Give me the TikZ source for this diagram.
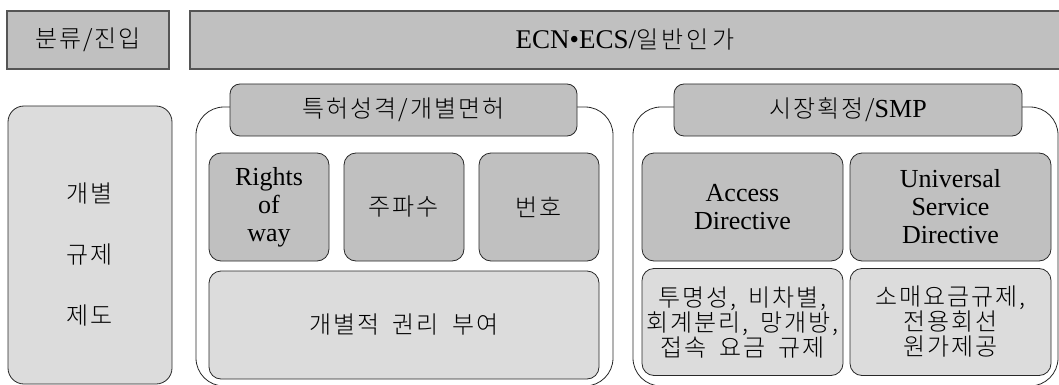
\documentclass[tikz,border=0pt]{standalone}
\usepackage{fontspec}
\setmainfont{Liberation Serif}
\newfontfamily\kr{Noto Sans CJK KR Light}[WordSpace=1.8,LetterSpace=8]
\newfontfamily\krwide{Noto Sans CJK KR Light}[LetterSpace=14]
\definecolor{dkgray}{RGB}{192,192,192}
\definecolor{ltgray}{RGB}{220,220,220}
\definecolor{topedge}{RGB}{85,85,85}
\definecolor{edge}{RGB}{40,40,40}
\begin{document}
\begin{tikzpicture}[x=1pt,y=-1pt,
  topbox/.style={draw=topedge,line width=1.6pt,fill=dkgray,inner sep=0pt},
  outerbox/.style={draw=edge,line width=0.8pt,fill=white,rounded corners=28pt,inner sep=0pt},
  titlebox/.style={draw=edge,line width=0.8pt,fill=dkgray,rounded corners=10pt,inner sep=0pt},
  darkbox/.style={draw=edge,line width=0.8pt,fill=dkgray,rounded corners=12pt,inner sep=0pt,align=center},
  lightbox/.style={draw=edge,line width=0.8pt,fill=ltgray,rounded corners=12pt,inner sep=0pt,align=center},
  sidebox/.style={draw=edge,line width=0.8pt,fill=ltgray,rounded corners=16pt,inner sep=0pt},
  krf/.style={font=\kr\fontsize{24}{25}\selectfont},
  latf/.style={font=\fontsize{26}{28}\selectfont}]
\useasboundingbox (0,0) rectangle (1059,385);
% top row
\node[topbox,krf,minimum width=162pt,minimum height=58pt] (cls) at (88,40) {분류/진입};
\node[topbox,minimum width=870pt,minimum height=58pt] (ecn) at (625,40)
  {{\fontsize{27}{28}\selectfont ECN•ECS/}{\krwide\fontsize{24}{25}\selectfont 일반인가}};
% left side box
\node[sidebox,minimum width=164pt,minimum height=278pt] (side) at (90,245) {};
\node[align=center,font=\kr\fontsize{24}{61}\selectfont] (sidetxt) at (90,255) {개별\\규제\\제도};
% middle group
\node[outerbox,minimum width=417pt,minimum height=279pt] (mid) at (404.5,246.5) {};
\node[titlebox,krf,minimum width=347pt,minimum height=52pt] (midt) at (403.5,110) {특허성격/개별면허};
\node[darkbox,latf,minimum width=120pt,minimum height=108pt] (row) at (269,207) {Rights\\of\\way};
\node[darkbox,krf,minimum width=120pt,minimum height=108pt] (freq) at (404,207) {주파수};
\node[darkbox,krf,minimum width=120pt,minimum height=108pt] (num) at (539,207) {번호};
\node[lightbox,krf,minimum width=390pt,minimum height=108pt] (grant) at (404,325) {개별적 권리 부여};
% right group
\node[outerbox,minimum width=425pt,minimum height=279pt] (rgt) at (845.5,246.5) {};
\node[titlebox,minimum width=348pt,minimum height=52pt] (rgtt) at (848,110)
  {{\kr\fontsize{24}{25}\selectfont 시장획정/}{\fontsize{26}{28}\selectfont SMP}};
\node[darkbox,latf,minimum width=201pt,minimum height=108pt] (acc) at (742.5,207) {Access\\Directive};
\node[darkbox,latf,minimum width=201pt,minimum height=108pt] (usd) at (950.5,207) {Universal\\Service\\Directive};
\node[lightbox,krf,minimum width=201pt,minimum height=107pt] (accd) at (742.5,322) {투명성, 비차별,\\회계분리, 망개방,\\접속 요금 규제};
\node[lightbox,krf,minimum width=201pt,minimum height=107pt] (usdd) at (950.5,322) {소매요금규제,\\전용회선\\원가제공};
\end{tikzpicture}
\end{document}
